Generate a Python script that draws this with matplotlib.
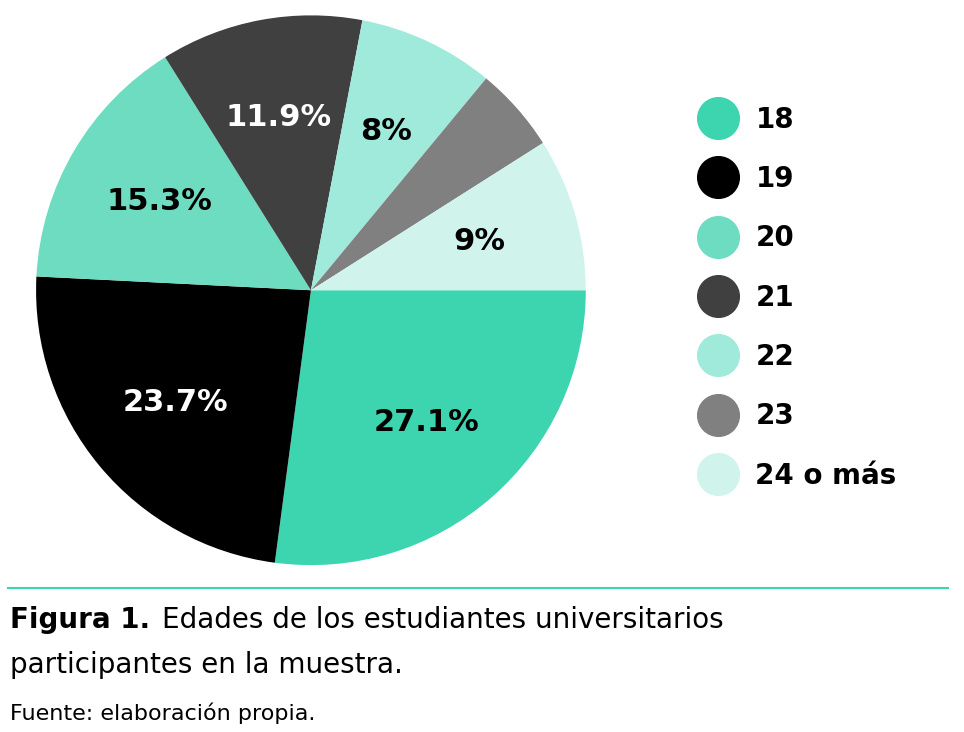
import matplotlib.pyplot as plt
from matplotlib.lines import Line2D

categories = ['18', '19', '20', '21', '22', '23', '24 o más']
values = [27.1, 23.7, 15.3, 11.9, 8.0, 5.0, 9.0]
pct_labels = ['27.1%', '23.7%', '15.3%', '11.9%', '8%', '', '9%']
colors = ['#3dd4b0', '#000000', '#6ddcc0', '#404040', '#a0eadb', '#808080', '#d0f4ec']
text_colors = ['black', 'white', 'black', 'white', 'black', 'black', 'black']

fig = plt.figure(figsize=(9.64, 7.32), dpi=100)
ax = fig.add_axes([0.0373, 0.228, 0.5705, 0.751])
wedges, texts, autotexts = ax.pie(values, colors=colors, startangle=0, counterclock=False,
                                  autopct='%1.1f', pctdistance=0.64)
for t, lab, c in zip(autotexts, pct_labels, text_colors):
    t.set_text(lab)
    t.set_color(c)
    t.set_fontsize(22)
    t.set_fontweight('bold')
ax.set_xlim(-1, 1)
ax.set_ylim(-1, 1)
ax.set_aspect('equal')

handles = [Line2D([], [], marker='o', linestyle='none', markersize=30,
                  markerfacecolor=c, markeredgecolor=c) for c in colors]
fig.legend(handles, categories, loc='upper left', bbox_to_anchor=(0.69, 0.89),
           frameon=False, labelspacing=1.13, handletextpad=0.35,
           prop={'weight': 'bold', 'size': 20})

fig.add_artist(Line2D([8 / 964, 948 / 964], [1 - 588 / 732] * 2, color='#3dd4b0', lw=1.5))
fig.text(0.01, 1 - 620 / 732, 'Figura 1.', fontsize=20, fontweight='bold', va='center')
fig.text(0.168, 1 - 620 / 732, 'Edades de los estudiantes universitarios', fontsize=20, va='center')
fig.text(0.01, 1 - 665 / 732, 'participantes en la muestra.', fontsize=20, va='center')
fig.text(0.01, 1 - 713 / 732, 'Fuente: elaboración propia.', fontsize=16, va='center')

fig.savefig('out.png', dpi=100)
